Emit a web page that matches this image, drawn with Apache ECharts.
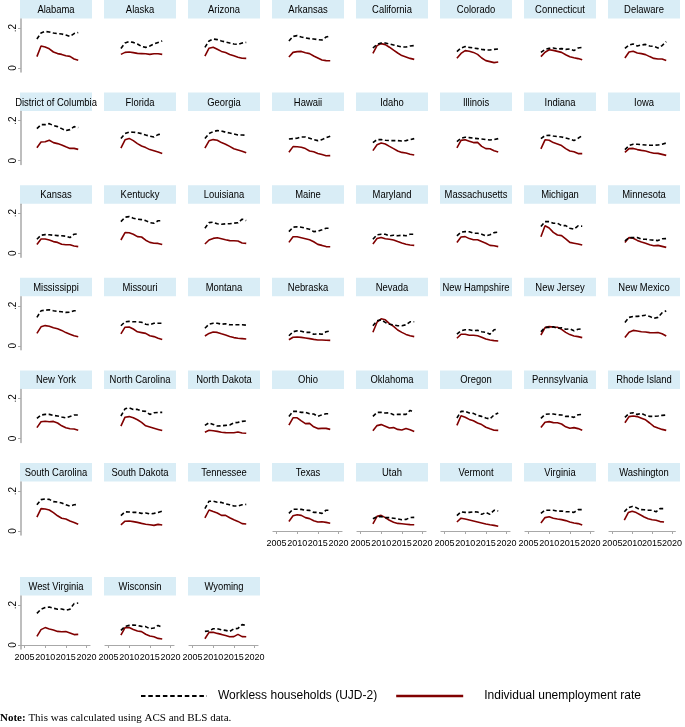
<!DOCTYPE html>
<html>
<head>
<meta charset="utf-8">
<script src="https://cdn.jsdelivr.net/npm/echarts@6/dist/echarts.min.js"></script>
<style>
html,body{margin:0;padding:0;background:#fff;}
#chart{width:685px;height:727px;}
</style>
</head>
<body>
<div id="chart"></div>
<script>
// 数据
var years = [2008, 2009, 2010, 2011, 2012, 2013, 2014, 2015, 2016, 2017, 2018];
var xTicks = [2005, 2010, 2015, 2020];
var yTicks = [0, 0.2];

var states = ['Alabama','Alaska','Arizona','Arkansas','California','Colorado','Connecticut','Delaware',
  'District of Columbia','Florida','Georgia','Hawaii','Idaho','Illinois','Indiana','Iowa',
  'Kansas','Kentucky','Louisiana','Maine','Maryland','Massachusetts','Michigan','Minnesota',
  'Mississippi','Missouri','Montana','Nebraska','Nevada','New Hampshire','New Jersey','New Mexico',
  'New York','North Carolina','North Dakota','Ohio','Oklahoma','Oregon','Pennsylvania','Rhode Island',
  'South Carolina','South Dakota','Tennessee','Texas','Utah','Vermont','Virginia','Washington',
  'West Virginia','Wisconsin','Wyoming'];

// Workless households (UJD-2)
var workless = [
  [0.145,0.175,0.183,0.18,0.175,0.172,0.17,0.165,0.158,0.172,0.178],
  [0.098,0.125,0.132,0.128,0.12,0.108,0.103,0.11,0.12,0.128,0.135],
  [0.103,0.135,0.145,0.142,0.135,0.13,0.125,0.12,0.118,0.125,0.128],
  [0.135,0.158,0.162,0.155,0.15,0.147,0.145,0.142,0.14,0.155,0.16],
  [0.1,0.118,0.125,0.125,0.12,0.115,0.11,0.105,0.105,0.11,0.112],
  [0.082,0.1,0.107,0.103,0.1,0.097,0.093,0.09,0.09,0.093,0.095],
  [0.078,0.093,0.098,0.1,0.095,0.097,0.093,0.095,0.087,0.1,0.103],
  [0.098,0.115,0.12,0.11,0.115,0.118,0.11,0.108,0.1,0.112,0.132],
  [0.16,0.18,0.18,0.185,0.175,0.17,0.16,0.15,0.155,0.17,0.165],
  [0.11,0.135,0.143,0.142,0.14,0.135,0.128,0.122,0.118,0.13,0.135],
  [0.11,0.135,0.145,0.15,0.148,0.142,0.138,0.133,0.128,0.128,0.127],
  [0.108,0.11,0.112,0.118,0.118,0.112,0.105,0.1,0.105,0.115,0.122],
  [0.09,0.105,0.105,0.102,0.1,0.1,0.1,0.098,0.1,0.105,0.11],
  [0.095,0.112,0.117,0.115,0.112,0.11,0.108,0.105,0.103,0.105,0.11],
  [0.11,0.125,0.127,0.123,0.12,0.118,0.113,0.108,0.1,0.112,0.125],
  [0.055,0.075,0.082,0.082,0.08,0.078,0.077,0.077,0.078,0.082,0.088],
  [0.07,0.09,0.093,0.092,0.09,0.088,0.087,0.085,0.078,0.095,0.097],
  [0.158,0.18,0.183,0.175,0.17,0.168,0.163,0.153,0.15,0.162,0.163],
  [0.125,0.153,0.155,0.147,0.145,0.147,0.147,0.15,0.152,0.17,0.163],
  [0.108,0.13,0.132,0.13,0.125,0.12,0.108,0.11,0.117,0.125,0.125],
  [0.07,0.092,0.095,0.095,0.087,0.09,0.087,0.09,0.087,0.095,0.095],
  [0.087,0.105,0.108,0.107,0.1,0.1,0.095,0.087,0.092,0.103,0.105],
  [0.133,0.158,0.158,0.15,0.15,0.138,0.138,0.125,0.12,0.137,0.135],
  [0.062,0.078,0.078,0.078,0.07,0.07,0.067,0.065,0.063,0.072,0.073],
  [0.142,0.175,0.178,0.18,0.175,0.172,0.17,0.167,0.168,0.175,0.175],
  [0.1,0.12,0.122,0.12,0.12,0.118,0.108,0.105,0.113,0.113,0.113],
  [0.088,0.108,0.113,0.113,0.108,0.11,0.105,0.105,0.105,0.105,0.103],
  [0.05,0.07,0.075,0.073,0.067,0.068,0.058,0.06,0.058,0.07,0.075],
  [0.1,0.125,0.13,0.117,0.108,0.105,0.1,0.1,0.105,0.12,0.12],
  [0.058,0.075,0.08,0.08,0.075,0.078,0.07,0.067,0.058,0.08,0.083],
  [0.07,0.092,0.092,0.095,0.087,0.09,0.083,0.085,0.075,0.083,0.085],
  [0.117,0.142,0.147,0.147,0.15,0.153,0.147,0.137,0.142,0.165,0.175],
  [0.1,0.117,0.12,0.12,0.115,0.112,0.107,0.103,0.11,0.117,0.117],
  [0.112,0.148,0.153,0.145,0.145,0.137,0.135,0.12,0.128,0.13,0.13],
  [0.065,0.078,0.07,0.062,0.063,0.065,0.067,0.078,0.08,0.085,0.087],
  [0.11,0.135,0.135,0.13,0.13,0.123,0.122,0.11,0.118,0.123,0.123],
  [0.11,0.13,0.13,0.127,0.128,0.118,0.12,0.12,0.12,0.14,0.13],
  [0.102,0.135,0.135,0.127,0.125,0.115,0.11,0.102,0.097,0.118,0.127],
  [0.1,0.12,0.122,0.122,0.118,0.117,0.11,0.11,0.105,0.118,0.12],
  [0.105,0.125,0.128,0.12,0.125,0.115,0.11,0.11,0.112,0.115,0.117],
  [0.131,0.157,0.16,0.158,0.147,0.145,0.14,0.131,0.125,0.131,0.133],
  [0.077,0.096,0.095,0.093,0.093,0.088,0.09,0.085,0.088,0.093,0.1],
  [0.112,0.149,0.149,0.144,0.143,0.136,0.131,0.125,0.125,0.131,0.133],
  [0.088,0.109,0.109,0.108,0.104,0.103,0.093,0.093,0.088,0.104,0.104],
  [0.061,0.072,0.072,0.067,0.067,0.064,0.061,0.056,0.058,0.067,0.068],
  [0.077,0.096,0.093,0.093,0.096,0.095,0.083,0.093,0.083,0.104,0.1],
  [0.088,0.104,0.104,0.104,0.099,0.1,0.096,0.096,0.093,0.107,0.107],
  [0.096,0.117,0.123,0.117,0.107,0.106,0.104,0.104,0.096,0.112,0.112],
  [0.158,0.179,0.187,0.19,0.184,0.179,0.18,0.174,0.179,0.207,0.21],
  [0.073,0.093,0.098,0.1,0.098,0.093,0.092,0.081,0.085,0.098,0.089],
  [0.068,0.07,0.081,0.081,0.076,0.073,0.068,0.081,0.083,0.102,0.098]
];

// Individual unemployment rate
var unemp = [
  [0.057,0.11,0.105,0.096,0.08,0.072,0.068,0.061,0.058,0.045,0.039],
  [0.068,0.078,0.08,0.077,0.073,0.072,0.071,0.068,0.071,0.071,0.068],
  [0.059,0.099,0.104,0.094,0.083,0.077,0.068,0.061,0.054,0.049,0.048],
  [0.055,0.078,0.082,0.083,0.076,0.072,0.06,0.05,0.04,0.037,0.036],
  [0.073,0.112,0.122,0.117,0.104,0.089,0.075,0.062,0.055,0.048,0.043],
  [0.049,0.073,0.087,0.084,0.078,0.068,0.05,0.037,0.032,0.027,0.03],
  [0.057,0.079,0.091,0.088,0.083,0.078,0.066,0.056,0.051,0.047,0.041],
  [0.05,0.08,0.084,0.075,0.072,0.067,0.057,0.048,0.045,0.045,0.038],
  [0.064,0.093,0.094,0.102,0.09,0.085,0.078,0.069,0.061,0.061,0.056],
  [0.062,0.104,0.111,0.1,0.085,0.073,0.065,0.055,0.049,0.043,0.036],
  [0.062,0.099,0.105,0.102,0.09,0.082,0.071,0.059,0.053,0.047,0.039],
  [0.042,0.07,0.069,0.067,0.06,0.048,0.044,0.036,0.03,0.024,0.025],
  [0.05,0.079,0.088,0.083,0.071,0.06,0.048,0.041,0.038,0.032,0.028],
  [0.064,0.101,0.104,0.097,0.09,0.091,0.071,0.06,0.059,0.049,0.043],
  [0.059,0.104,0.102,0.09,0.083,0.075,0.06,0.048,0.044,0.035,0.035],
  [0.041,0.06,0.061,0.055,0.051,0.048,0.042,0.037,0.036,0.031,0.026],
  [0.044,0.071,0.071,0.066,0.058,0.054,0.045,0.042,0.042,0.036,0.033],
  [0.066,0.103,0.102,0.095,0.083,0.081,0.065,0.054,0.05,0.049,0.043],
  [0.046,0.066,0.074,0.077,0.072,0.067,0.063,0.062,0.061,0.051,0.049],
  [0.054,0.082,0.082,0.077,0.072,0.067,0.057,0.044,0.039,0.033,0.032],
  [0.046,0.073,0.079,0.072,0.07,0.066,0.058,0.051,0.045,0.041,0.039],
  [0.054,0.081,0.083,0.073,0.067,0.067,0.058,0.05,0.039,0.037,0.033],
  [0.082,0.137,0.126,0.104,0.091,0.088,0.072,0.054,0.05,0.046,0.041],
  [0.054,0.078,0.075,0.064,0.056,0.05,0.042,0.037,0.039,0.034,0.029],
  [0.062,0.095,0.101,0.098,0.09,0.085,0.077,0.066,0.058,0.05,0.045],
  [0.06,0.093,0.094,0.084,0.07,0.066,0.062,0.05,0.046,0.038,0.032],
  [0.049,0.062,0.069,0.067,0.06,0.054,0.047,0.041,0.038,0.036,0.034],
  [0.03,0.043,0.044,0.042,0.039,0.036,0.032,0.029,0.029,0.028,0.027],
  [0.068,0.118,0.135,0.13,0.111,0.097,0.079,0.067,0.057,0.05,0.046],
  [0.038,0.058,0.058,0.053,0.053,0.05,0.043,0.034,0.029,0.026,0.024],
  [0.054,0.091,0.096,0.094,0.093,0.082,0.067,0.056,0.049,0.046,0.041],
  [0.042,0.068,0.077,0.074,0.07,0.069,0.066,0.065,0.066,0.06,0.049],
  [0.054,0.083,0.086,0.083,0.085,0.077,0.063,0.053,0.048,0.047,0.041],
  [0.061,0.106,0.109,0.103,0.093,0.08,0.063,0.057,0.051,0.045,0.039],
  [0.031,0.041,0.038,0.035,0.031,0.029,0.028,0.028,0.032,0.027,0.026],
  [0.066,0.103,0.103,0.088,0.074,0.075,0.058,0.049,0.05,0.05,0.045],
  [0.038,0.064,0.069,0.061,0.052,0.054,0.045,0.042,0.049,0.043,0.034],
  [0.065,0.113,0.106,0.095,0.088,0.077,0.069,0.056,0.048,0.041,0.04],
  [0.054,0.081,0.084,0.079,0.078,0.072,0.058,0.051,0.054,0.049,0.041],
  [0.078,0.109,0.112,0.109,0.101,0.093,0.077,0.06,0.052,0.045,0.04],
  [0.069,0.112,0.11,0.105,0.092,0.076,0.064,0.06,0.05,0.043,0.034],
  [0.031,0.049,0.05,0.047,0.043,0.038,0.034,0.031,0.028,0.033,0.03],
  [0.066,0.105,0.097,0.09,0.078,0.078,0.066,0.056,0.048,0.037,0.035],
  [0.048,0.076,0.081,0.078,0.067,0.062,0.051,0.045,0.046,0.043,0.039],
  [0.036,0.073,0.078,0.067,0.054,0.044,0.038,0.036,0.034,0.032,0.031],
  [0.045,0.064,0.06,0.055,0.05,0.045,0.04,0.035,0.031,0.028,0.024],
  [0.04,0.067,0.071,0.064,0.06,0.057,0.052,0.045,0.04,0.037,0.03],
  [0.054,0.092,0.099,0.092,0.081,0.07,0.061,0.056,0.054,0.047,0.045],
  [0.043,0.077,0.087,0.08,0.075,0.068,0.066,0.067,0.06,0.052,0.053],
  [0.049,0.087,0.087,0.078,0.07,0.067,0.054,0.045,0.041,0.033,0.03],
  [0.031,0.063,0.064,0.058,0.053,0.047,0.041,0.042,0.053,0.042,0.041]
];

var worklessName = 'Workless households (UJD-2)';
var unempName = 'Individual unemployment rate';

// 版面
var sans = "'Liberation Sans','Arial',sans-serif";
var serif = "'Liberation Serif','Times New Roman',serif";
var rowTops = [0, 92.6, 185.2, 277.8, 370.4, 463, 577];
var colW = 84, hdrW = 72, hdrH = 18.5;

var grids = [], xAxes = [], yAxes = [], series = [], graphics = [];
var axisCol = '#a8a8a8';

function pairs(arr) {
  return years.map(function (y, k) { return [y, arr[k]]; });
}

states.forEach(function (name, i) {
  var r = Math.floor(i / 8), c = i % 8;
  var x0 = 20 + colW * c, y0 = rowTops[r];
  var showX = i >= 43;
  var showY = c === 0;

  // 标题条
  graphics.push({
    type: 'rect', silent: true,
    shape: { x: x0, y: y0, width: hdrW, height: hdrH },
    style: { fill: '#d9edf6' }
  });
  graphics.push({
    type: 'text', silent: true, z: 10,
    x: x0 + hdrW / 2, y: y0 + hdrH / 2 + 0.5, scaleX: 0.82,
    style: {
      x: 0, y: 0, text: name,
      align: 'center', verticalAlign: 'middle',
      font: '11.5px ' + sans, fill: '#000'
    }
  });

  grids.push({ left: x0 + 1, top: y0 + 19, width: 69, height: 53 });

  xAxes.push({
    type: 'value', gridIndex: i, min: 2004.15, max: 2020.85, show: showX,
    axisLine: { show: true, lineStyle: { color: axisCol, width: 1.2 } },
    axisTick: { show: true, customValues: xTicks, length: 3, lineStyle: { color: axisCol } },
    axisLabel: {
      customValues: xTicks, fontSize: 9, margin: 4, color: '#000', fontFamily: sans,
      hideOverlap: false, formatter: function (v) { return String(v); }
    },
    splitLine: { show: false }
  });

  yAxes.push({
    type: 'value', gridIndex: i, min: -0.02, max: 0.245, show: showY,
    axisLine: { show: true, lineStyle: { color: axisCol, width: 1.5 } },
    axisTick: { show: true, customValues: yTicks, length: 3, lineStyle: { color: axisCol } },
    axisLabel: {
      customValues: yTicks, rotate: 90, fontSize: 10, margin: 3, color: '#000', fontFamily: sans,
      formatter: function (v) { return String(v).replace(/^0\./, '.'); }
    },
    splitLine: { show: false }
  });

  series.push({
    name: worklessName, type: 'line', xAxisIndex: i, yAxisIndex: i,
    symbol: 'none', silent: true, data: pairs(workless[i]),
    itemStyle: { color: '#000' },
    lineStyle: { color: '#000', width: 1.6, type: [4, 2.5] }, z: 3
  });
  series.push({
    name: unempName, type: 'line', xAxisIndex: i, yAxisIndex: i,
    symbol: 'none', silent: true, data: pairs(unemp[i]),
    itemStyle: { color: '#800000' },
    lineStyle: { color: '#800000', width: 1.6 }, z: 2
  });
});

var legendText = { fontSize: 12, color: '#000', fontFamily: sans };

var option = {
  animation: false,
  backgroundColor: '#fff',
  title: {
    text: '{b|Note:} This was calculated using ACS and BLS data.',
    left: 0, top: 713, padding: 0,
    textStyle: {
      fontFamily: serif, fontSize: 11, fontWeight: 'normal', color: '#000',
      rich: { b: { fontFamily: serif, fontSize: 11, fontWeight: 'bold', color: '#000' } }
    }
  },
  legend: [
    {
      data: [{ name: worklessName, textStyle: { padding: [0, 0, 0, 6] } }],
      left: 140, top: 690, itemWidth: 66, itemHeight: 14, padding: 0,
      itemStyle: { opacity: 0 },
      lineStyle: { width: 2, type: [4.5, 2.8] }, textStyle: legendText, selectedMode: false
    },
    {
      data: [{ name: unempName, textStyle: { padding: [0, 0, 0, 16] } }],
      left: 395, top: 690, itemWidth: 67, itemHeight: 14, padding: 0,
      itemStyle: { opacity: 0 },
      lineStyle: { width: 2.4 }, textStyle: legendText, selectedMode: false
    }
  ],
  grid: grids,
  xAxis: xAxes,
  yAxis: yAxes,
  series: series,
  graphic: graphics
};

echarts.init(document.getElementById('chart')).setOption(option);
</script>
</body>
</html>
